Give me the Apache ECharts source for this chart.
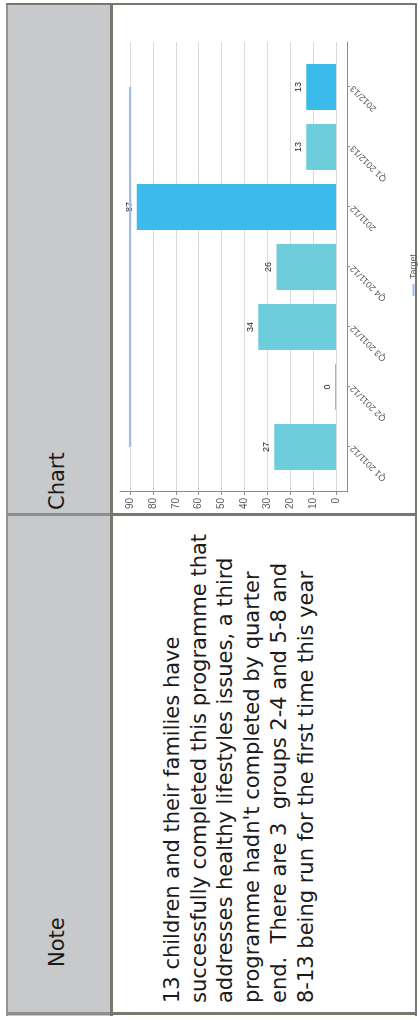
<!DOCTYPE html>
<html>
<head>
<meta charset="utf-8">
<script src="https://cdn.jsdelivr.net/npm/echarts@6/dist/echarts.min.js"></script>
<style>
html, body { margin:0; padding:0; background:#fff; }
body { width:420px; height:1020px; overflow:hidden; position:relative; }
/* table is laid out landscape (1020x420) and turned a quarter to the left */
#sheet {
  position:absolute; left:0; top:0; width:1020px; height:420px;
  transform-origin:0 0; transform:translate(0,1020px) rotate(-90deg);
  background:#fff; font-family:"DejaVu Sans", Verdana, sans-serif; color:#1a1a1a;
}
.hd { position:absolute; left:4px; top:6px; width:1013px; height:106px; background:#c8c9cb; }
.ln { position:absolute; }
.txt { position:absolute; font-size:21px; line-height:26.7px; white-space:pre; }
#chart { position:absolute; left:0; top:0; width:1020px; height:420px; }
</style>
</head>
<body>
<div id="sheet">
  <div class="hd"></div>
  <!-- borders -->
  <div class="ln" style="left:4px;top:6px;width:1013px;height:2px;background:#939393"></div>
  <div class="ln" style="left:4px;top:110px;width:1013px;height:3px;background:#77776b"></div>
  <div class="ln" style="left:4px;top:415px;width:1013px;height:2px;background:#77776b"></div>
  <div class="ln" style="left:5px;top:6px;width:3px;height:106px;background:#8e8e8e"></div>
  <div class="ln" style="left:5px;top:110px;width:3px;height:307px;background:#77776b"></div>
  <div class="ln" style="left:504px;top:6px;width:3px;height:106px;background:#8e8e8e"></div>
  <div class="ln" style="left:504px;top:110px;width:3px;height:307px;background:#77776b"></div>
  <div class="ln" style="left:1015px;top:6px;width:2px;height:411px;background:#77776b"></div>

  <div class="txt" style="left:53px;top:44px">Note</div>
  <div class="txt" style="left:510px;top:44px">Chart</div>
  <div class="txt" style="left:17px;top:159px">13 children and their families have
successfully completed this programme that
addresses healthy lifestyles issues, a third
programme hadn't completed by quarter
end.  There are 3  groups 2-4 and 5-8 and
8-13 being run for the first time this year</div>

  <div id="chart"></div>
</div>
<script>
// data
var categories = ['Q1 2011/12', 'Q2 2011/12', 'Q3 2011/12', 'Q4 2011/12', '2011/12', 'Q1 2012/13', '2012/13'];
var completed = [27, 0, 34, 26, 87, 13, 13];
var target = [90, 90, 90, 90, 90, 90, 90];
var valueMin = 0, valueMax = 90, valueStep = 10;

var axisGray = '#8c8c8c';
var quarterColor = '#6dcddb';
var yearColor = '#3bbbea';
var lab = 'Liberation Sans, Arial, sans-serif';

var chart = echarts.init(document.getElementById('chart'));

// whole-year totals (no quarter prefix) get the darker blue
var barData = completed.map(function (v, i) {
  var isYear = categories[i].indexOf('Q') !== 0;
  return { value: v, itemStyle: { color: isYear ? yearColor : quarterColor } };
});

chart.setOption({
  animation: false,
  backgroundColor: 'transparent',
  legend: {
    data: ['Target'],
    left: 719, top: 404,
    icon: 'rect', itemWidth: 12, itemHeight: 2, itemGap: 5,
    textStyle: { fontSize: 9, color: '#595959', fontFamily: lab }
  },
  grid: [
    // value scale + gridlines
    { left: 528, top: 130, width: 450, height: 206 },
    // bars (narrower band so categories sit 60px apart)
    { left: 543, top: 130, width: 420, height: 206 },
    // just the vertical axis line, a bit taller than the scale
    { left: 528, top: 120, width: 450, height: 227 }
  ],
  xAxis: [
    {
      gridIndex: 0, type: 'category', data: categories, offset: 11,
      axisLine: { onZero: false, lineStyle: { color: axisGray, width: 1 } },
      axisTick: { show: false }, axisLabel: { show: false }
    },
    {
      gridIndex: 1, type: 'category', data: categories, offset: 11,
      axisLine: { show: false, onZero: false },
      axisTick: { show: true, alignWithLabel: true, length: 3, lineStyle: { color: axisGray } },
      axisLabel: { interval: 0, rotate: 45, fontSize: 9, color: '#595959', fontFamily: lab, margin: 5 }
    },
    { gridIndex: 2, type: 'value', show: false }
  ],
  yAxis: [
    {
      gridIndex: 0, type: 'value', min: valueMin, max: valueMax, interval: valueStep,
      axisLine: { show: false },
      axisTick: { show: true, length: 3, lineStyle: { color: axisGray } },
      axisLabel: { fontSize: 10, color: '#595959', fontFamily: lab, margin: 6 },
      splitLine: { lineStyle: { color: '#d9d9d9', width: 1 } }
    },
    {
      gridIndex: 1, type: 'value', min: valueMin, max: valueMax, interval: valueStep, show: false
    },
    {
      gridIndex: 2, type: 'value', min: 0, max: 1,
      axisLine: { show: true, onZero: false, lineStyle: { color: axisGray, width: 1 } },
      axisTick: { show: false }, axisLabel: { show: false }, splitLine: { show: false }
    }
  ],
  series: [
    {
      name: 'Completed', type: 'bar', xAxisIndex: 1, yAxisIndex: 1,
      data: barData, barWidth: 46, barMinHeight: 1,
      label: { show: true, position: 'top', distance: 3, fontSize: 9, color: '#262626', fontFamily: lab }
    },
    {
      name: 'Target', type: 'line', xAxisIndex: 1, yAxisIndex: 1,
      data: target, symbol: 'none', z: 5,
      lineStyle: { color: '#a4bce8', width: 2.5 },
      itemStyle: { color: '#a4bce8' }
    }
  ]
});
</script>
</body>
</html>
